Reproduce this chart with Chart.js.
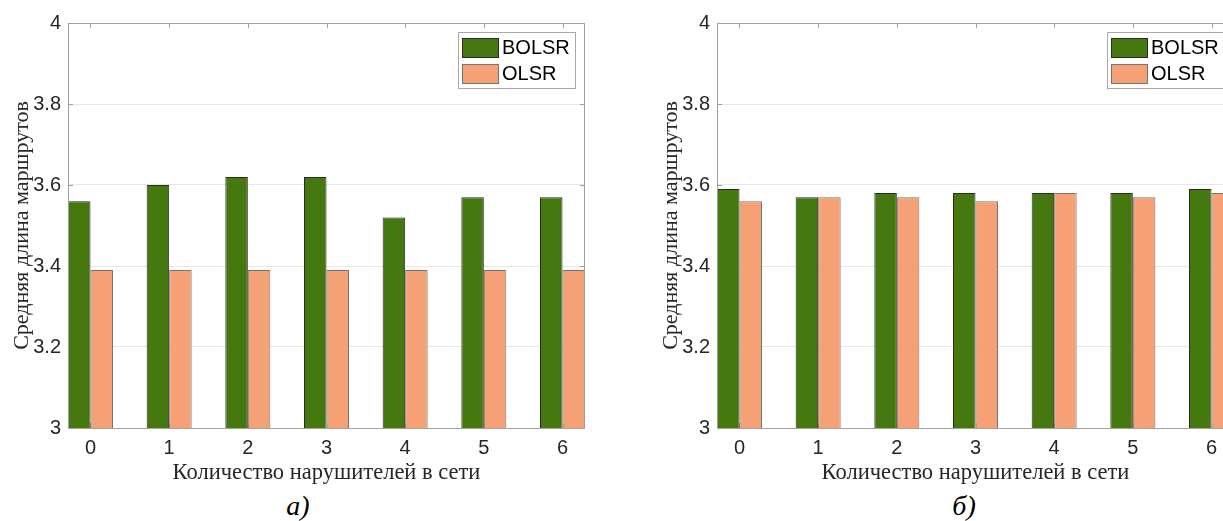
<!DOCTYPE html>
<html>
<head>
<meta charset="utf-8">
<script src="https://cdn.jsdelivr.net/npm/chart.js@4/dist/chart.umd.min.js"></script>
<style>
  html, body { margin: 0; padding: 0; background: #fff; }
  body { width: 1223px; height: 521px; overflow: hidden; position: relative; }
  .panel { position: absolute; top: 0; width: 610px; height: 490px; }
  .caption { position: absolute; top: 490px; font: italic 28px "Liberation Serif", serif; color: #000; transform: translateX(-50%); }
</style>
</head>
<body>
<div class="panel" style="left:0"><canvas id="chartA" width="610" height="490"></canvas></div>
<div class="panel" style="left:649px"><canvas id="chartB" width="610" height="490"></canvas></div>
<div class="caption" style="left:298px">а)</div>
<div class="caption" style="left:964px">б)</div>
<script>
const categories = [0, 1, 2, 3, 4, 5, 6];
const seriesNames = ['BOLSR', 'OLSR'];
const bolsrA = [3.56, 3.60, 3.62, 3.62, 3.52, 3.57, 3.57];
const olsrA = [3.39, 3.39, 3.39, 3.39, 3.39, 3.39, 3.39];
const bolsrB = [3.59, 3.57, 3.58, 3.58, 3.58, 3.58, 3.59];
const olsrB = [3.56, 3.57, 3.57, 3.56, 3.58, 3.57, 3.58];
const yTicks = [3, 3.2, 3.4, 3.6, 3.8, 4];
const xTitle = 'Количество нарушителей в сети';
const yTitle = 'Средняя длина маршрутов';

const GREEN = '#467810';
const ORANGE = '#f6a076';
const AXIS = '#a0a0a0';
const TEXT = '#262626';

// MATLAB-like box with inner tick marks
const framePlugin = {
    id: 'frame',
    beforeDatasetsDraw(chart) {
        const { ctx, chartArea: a, scales: { x, y } } = chart;
        ctx.save();
        ctx.strokeStyle = AXIS;
        ctx.lineWidth = 1;
        ctx.beginPath();
        categories.forEach(function (c) {
            const px = Math.round(x.getPixelForValue(c)) + 0.5;
            ctx.moveTo(px, a.top); ctx.lineTo(px, a.top + 5);
            ctx.moveTo(px, a.bottom); ctx.lineTo(px, a.bottom - 5);
        });
        yTicks.forEach(function (t) {
            const py = Math.round(y.getPixelForValue(t)) + 0.5;
            ctx.moveTo(a.left, py); ctx.lineTo(a.left + 5, py);
            ctx.moveTo(a.right, py); ctx.lineTo(a.right - 5, py);
        });
        ctx.stroke();
        ctx.restore();
    },
    afterDatasetsDraw(chart) {
        const { ctx, chartArea: a } = chart;
        ctx.save();
        ctx.strokeStyle = AXIS;
        ctx.lineWidth = 1;
        ctx.strokeRect(a.left + 0.5, a.top + 0.5, a.right - a.left - 1, a.bottom - a.top);
        ctx.restore();
    },
    afterDraw(chart) {
        // boxed legend in the upper right corner
        const { ctx, chartArea: a } = chart;
        const w = 117, h = 56;
        const left = a.right - 10 - w, top = a.top + 9;
        ctx.save();
        ctx.fillStyle = '#fff';
        ctx.fillRect(left, top, w, h);
        ctx.strokeStyle = '#a8a8a8';
        ctx.lineWidth = 1;
        ctx.strokeRect(left + 0.5, top + 0.5, w, h);
        ctx.font = '20px "Liberation Sans", Arial, sans-serif';
        ctx.textBaseline = 'middle';
        chart.data.datasets.forEach(function (ds, i) {
            const sy = top + 6 + i * 26;
            ctx.fillStyle = ds.backgroundColor;
            ctx.fillRect(left + 4, sy, 36, 19);
            ctx.strokeStyle = ds.borderColor;
            ctx.strokeRect(left + 4.5, sy + 0.5, 36, 19);
            ctx.fillStyle = '#000';
            ctx.fillText(ds.label, left + 44, sy + 10.5);
        });
        ctx.restore();
    }
};

function makeChart(id, bolsr, olsr) {
    const ctx = document.getElementById(id).getContext('2d');
    return new Chart(ctx, {
        type: 'bar',
        data: {
            datasets: [{
                label: seriesNames[0],
                data: categories.map(function (c, i) { return { x: c, y: bolsr[i] }; }),
                backgroundColor: GREEN,
                borderColor: '#2a2a2a',
                borderWidth: 1
            }, {
                label: seriesNames[1],
                data: categories.map(function (c, i) { return { x: c, y: olsr[i] }; }),
                backgroundColor: ORANGE,
                borderColor: '#7a7470',
                borderWidth: 1
            }]
        },
        options: {
            responsive: false,
            animation: false,
            devicePixelRatio: 1,
            categoryPercentage: 0.572,
            barPercentage: 1.0,
            layout: { padding: { top: 23, right: 25, left: 0, bottom: 0 } },
            plugins: {
                legend: { display: false },
                tooltip: { enabled: false }
            },
            scales: {
                x: {
                    type: 'linear',
                    offset: false,
                    min: -0.286,
                    max: 6.286,
                    afterFit: function (scale) { scale.height = 62; },
                    ticks: {
                        stepSize: 1,
                        includeBounds: false,
                        color: TEXT,
                        padding: 8,
                        font: { family: '"Liberation Sans", Arial, sans-serif', size: 20 }
                    },
                    grid: { display: false, drawTicks: false },
                    border: { display: false },
                    title: {
                        display: true,
                        text: xTitle,
                        color: TEXT,
                        padding: { top: 0, bottom: 3 },
                        font: { family: '"Liberation Serif", serif', size: 22.5 }
                    }
                },
                y: {
                    min: 3,
                    max: 4,
                    afterFit: function (scale) { scale.width = 68; },
                    afterBuildTicks: function (scale) {
                        scale.ticks = yTicks.map(function (v) { return { value: v }; });
                    },
                    ticks: {
                        color: TEXT,
                        padding: 7,
                        font: { family: '"Liberation Sans", Arial, sans-serif', size: 20 },
                        callback: function (v) { return String(Number(v.toFixed(1))); }
                    },
                    grid: { color: '#e6e6e6', drawTicks: false },
                    border: { display: false },
                    title: {
                        display: true,
                        text: yTitle,
                        color: TEXT,
                        padding: { top: 9, bottom: 0 },
                        font: { family: '"Liberation Serif", serif', size: 22 }
                    }
                }
            }
        },
        plugins: [framePlugin]
    });
}

makeChart('chartA', bolsrA, olsrA);
makeChart('chartB', bolsrB, olsrB);
</script>
</body>
</html>
